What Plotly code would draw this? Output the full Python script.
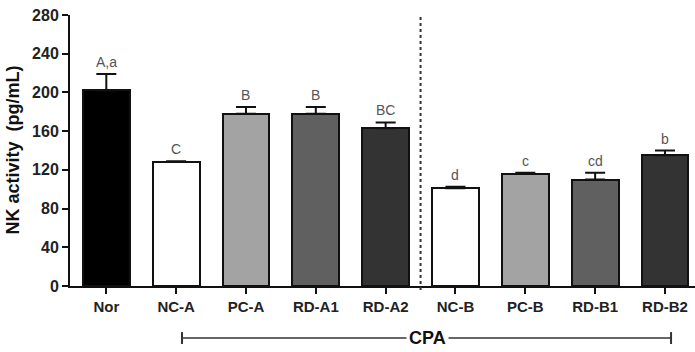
import plotly.graph_objects as go

categories = ["Nor", "NC-A", "PC-A", "RD-A1", "RD-A2", "NC-B", "PC-B", "RD-B1", "RD-B2"]
values = [202, 128, 178, 178, 163, 101, 116, 110, 135]
errors = [17, 1, 7, 7, 6, 1.5, 1, 7, 5]
letters = ["A,a", "C", "B", "B", "BC", "d", "c", "cd", "b"]
colors = ["#000000", "#ffffff", "#a3a3a3", "#606060", "#333333",
          "#ffffff", "#a3a3a3", "#606060", "#333333"]
y_ticks = [0, 40, 80, 120, 160, 200, 240, 280]

FONT = "Liberation Sans, Arial, sans-serif"
xs = list(range(len(categories)))

fig = go.Figure()
fig.add_trace(go.Bar(
    x=xs, y=values, width=0.67,
    marker=dict(color=colors, line=dict(color="#111111", width=2)),
    error_y=dict(type="data", symmetric=False, array=errors,
                 arrayminus=[0] * len(errors), color="#111111",
                 thickness=2, width=10),
    showlegend=False,
))

for i, (v, e, t) in enumerate(zip(values, errors, letters)):
    fig.add_annotation(x=i, y=v + e, text=t, showarrow=False,
                       xref="x", yref="y", yanchor="bottom", yshift=2,
                       font=dict(family=FONT, size=14, color="#555555"))

# separator
fig.add_shape(type="line", xref="x", yref="paper", x0=4.5, x1=4.5,
              y0=-0.015, y1=1.0, line=dict(color="#333333", width=2, dash="dot"))

# CPA bracket
by = -0.192
fig.add_shape(type="line", xref="x", yref="paper", x0=1.084, x1=8.087,
              y0=by, y1=by, line=dict(color="#333333", width=1.5))
for xe in (1.084, 8.087):
    fig.add_shape(type="line", xref="x", yref="paper", x0=xe, x1=xe,
                  y0=by - 0.022, y1=by + 0.022, line=dict(color="#333333", width=2))
fig.add_annotation(x=4.6, y=by, xref="x", yref="paper", text="<b>CPA</b>",
                   showarrow=False, bgcolor="white", borderpad=2,
                   xanchor="center", yanchor="middle",
                   font=dict(family=FONT, size=18, color="#111111"))

# y-axis title
fig.add_annotation(x=-0.0928, y=0.5, xref="paper", yref="paper",
                   text="<b>NK activity  (pg/mL)</b>", textangle=-90,
                   showarrow=False, xanchor="center", yanchor="middle",
                   font=dict(family=FONT, size=18, color="#111111"))

fig.update_layout(
    width=695, height=352,
    margin=dict(l=70, r=0, t=15, b=66),
    plot_bgcolor="white", paper_bgcolor="white",
    bargap=0,
    xaxis=dict(range=[-0.52, 8.43], tickmode="array", tickvals=xs,
               ticktext=["<b>%s</b>" % c for c in categories],
               showline=True, linecolor="#111111", linewidth=2,
               ticks="outside", ticklen=6, tickwidth=2, tickcolor="#111111",
               showgrid=False, zeroline=False,
               tickfont=dict(family=FONT, size=15, color="#222222")),
    yaxis=dict(range=[0, 280], tickmode="array", tickvals=y_ticks,
               ticktext=["<b>%d</b>" % t for t in y_ticks],
               showline=True, linecolor="#111111", linewidth=2,
               ticks="outside", ticklen=6, tickwidth=2, tickcolor="#111111",
               showgrid=False, zeroline=False,
               tickfont=dict(family=FONT, size=16, color="#222222")),
)

fig.write_html("out.html")
